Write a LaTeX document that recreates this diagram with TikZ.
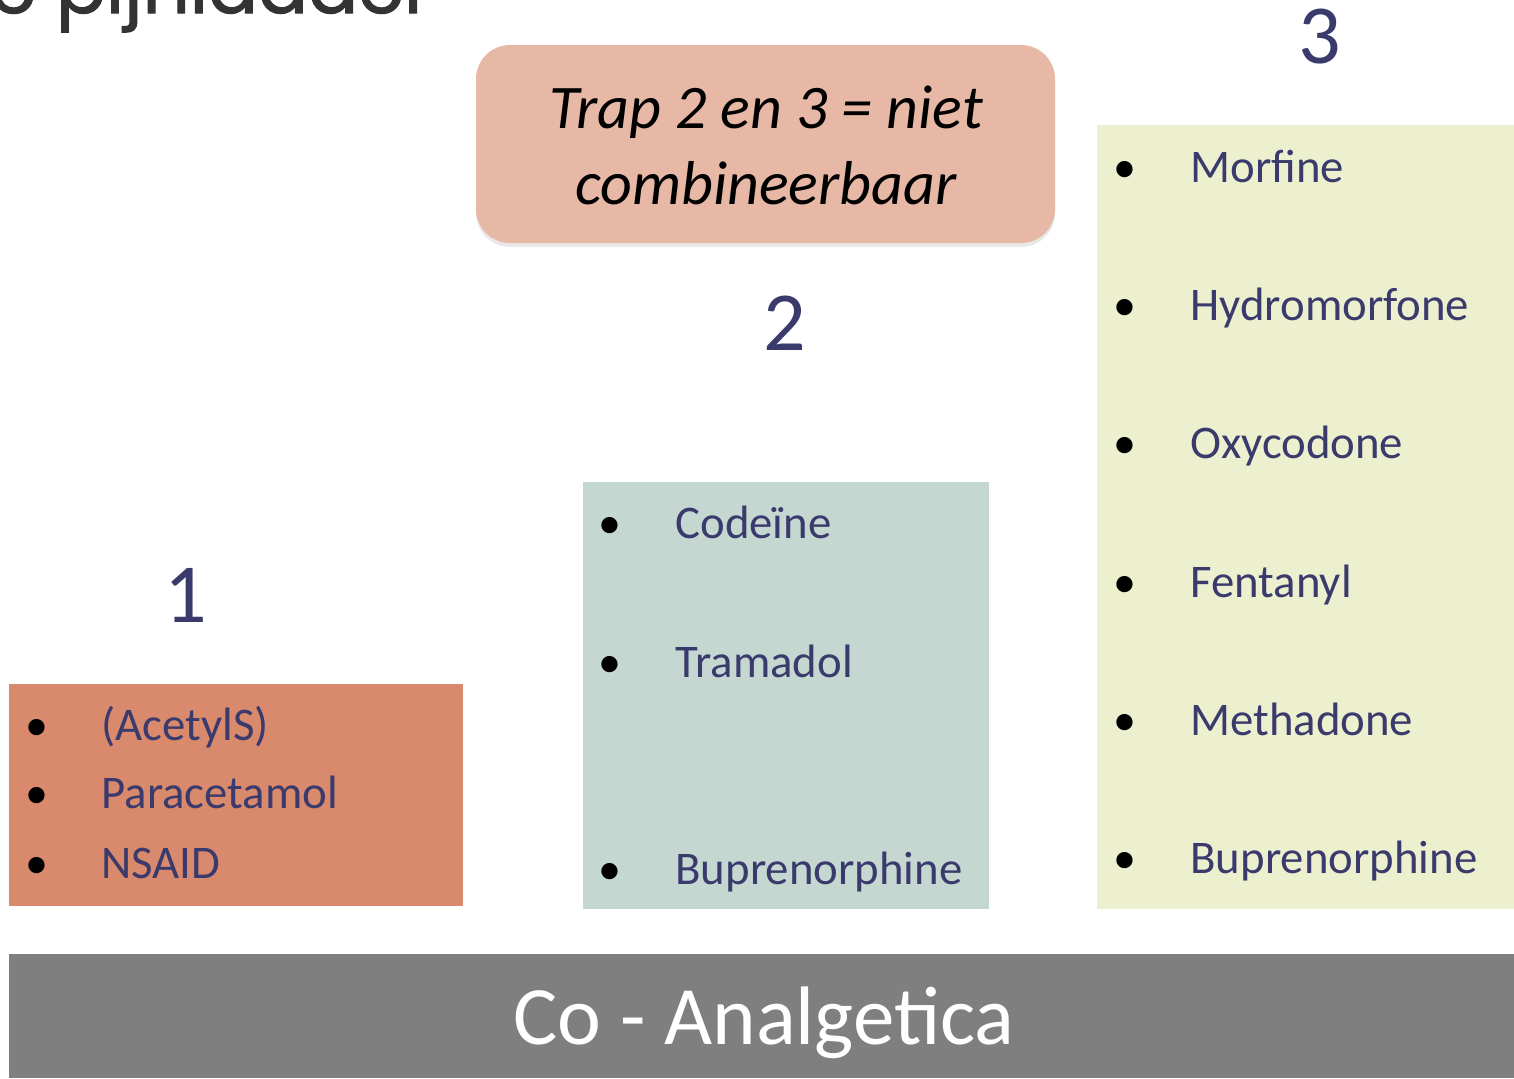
\documentclass[tikz,border=0pt]{standalone}
\usepackage{fontspec}
\setmainfont{Carlito}
\newfontfamily\titlefont[FakeBold=1.6]{Poppins}
\usetikzlibrary{shadows}
\definecolor{ladderink}{HTML}{3A3A6C}
\definecolor{stepone}{HTML}{D98A6C}
\definecolor{steptwo}{HTML}{C4D8D1}
\definecolor{stepthree}{HTML}{ECF0CF}
\definecolor{notefill}{HTML}{E8B8A6}
\definecolor{basebar}{HTML}{7F7F7F}

\tikzset{
  item/.style={anchor=base west, inner sep=0pt, text=ladderink, font=\fontsize{23.4}{28}\selectfont},
  itemdot/.style={anchor=base, inner sep=0pt, font=\fontsize{23}{28}\selectfont},
  stepnum/.style={anchor=base, inner sep=0pt, text=ladderink, font=\fontsize{42}{50}\selectfont},
}

\begin{document}
\begin{tikzpicture}[x=0.5pt, y=-0.5pt]
        \useasboundingbox (0,0) rectangle (1514,1078);

        \node[anchor=base east, inner sep=0pt, text=black!80, font=\titlefont\fontsize{37}{40}\selectfont] (title) at (432,13) {De pijnladder};

        % trap 1
        \fill[stepone] (9,684) rectangle (463,906);
        \node[stepnum] (num1) at (186,622) {1};
        \node[itemdot] (d11) at (37,740) {•};
        \node[item] (acetyl) at (101,740) {(AcetylS)};
        \node[itemdot] (d12) at (37,808) {•};
        \node[item] (paracetamol) at (101,808) {Paracetamol};
        \node[itemdot] (d13) at (37,878) {•};
        \node[item] (nsaid) at (101,878) {NSAID};

        % trap 2
        \fill[steptwo] (583,482) rectangle (989,909);
        \node[stepnum] (num2) at (785,350) {2};
        \node[itemdot] (d21) at (610,538) {•};
        \node[item] (codeine) at (675,538) {Codeïne};
        \node[itemdot] (d22) at (610,677) {•};
        \node[item] (tramadol) at (675,677) {Tramadol};
        \node[itemdot] (d23) at (610,884) {•};
        \node[item] (bupretwo) at (675,884) {Buprenorphine};

        % trap 3
        \fill[stepthree] (1097,125) rectangle (1514,909);
        \node[stepnum] (num3) at (1320,63) {3};
        \node[itemdot] (d31) at (1125,182) {•};
        \node[item] (morfine) at (1190,182) {Morfine};
        \node[itemdot] (d32) at (1125,320) {•};
        \node[item] (hydromorfone) at (1190,320) {Hydromorfone};
        \node[itemdot] (d33) at (1125,458) {•};
        \node[item] (oxycodone) at (1190,458) {Oxycodone};
        \node[itemdot] (d34) at (1125,597) {•};
        \node[item] (fentanyl) at (1190,597) {Fentanyl};
        \node[itemdot] (d35) at (1125,735) {•};
        \node[item] (methadone) at (1190,735) {Methadone};
        \node[itemdot] (d36) at (1125,873) {•};
        \node[item] (buprethree) at (1190,873) {Buprenorphine};

        %%%

        \node[fill=notefill, rounded corners=17pt, minimum width=289.5pt, minimum height=99pt,
              drop shadow={shadow xshift=0pt, shadow yshift=-2pt, opacity=0.18}] (note) at (765.5,144) {};
        \node[anchor=base, inner sep=0pt, font=\itshape\fontsize{31}{38}\selectfont] (noteA) at (766,128) {Trap 2 en 3 = niet};
        \node[anchor=base, inner sep=0pt, font=\itshape\fontsize{31}{38}\selectfont] (noteB) at (766,204) {combineerbaar};

        \fill[basebar] (9,954) rectangle (1514,1078);
        \node[anchor=base, inner sep=0pt, text=white, font=\fontsize{41.5}{50}\selectfont] (coanalg) at (764,1044) {Co - Analgetica};
    \end{tikzpicture}
\end{document}
